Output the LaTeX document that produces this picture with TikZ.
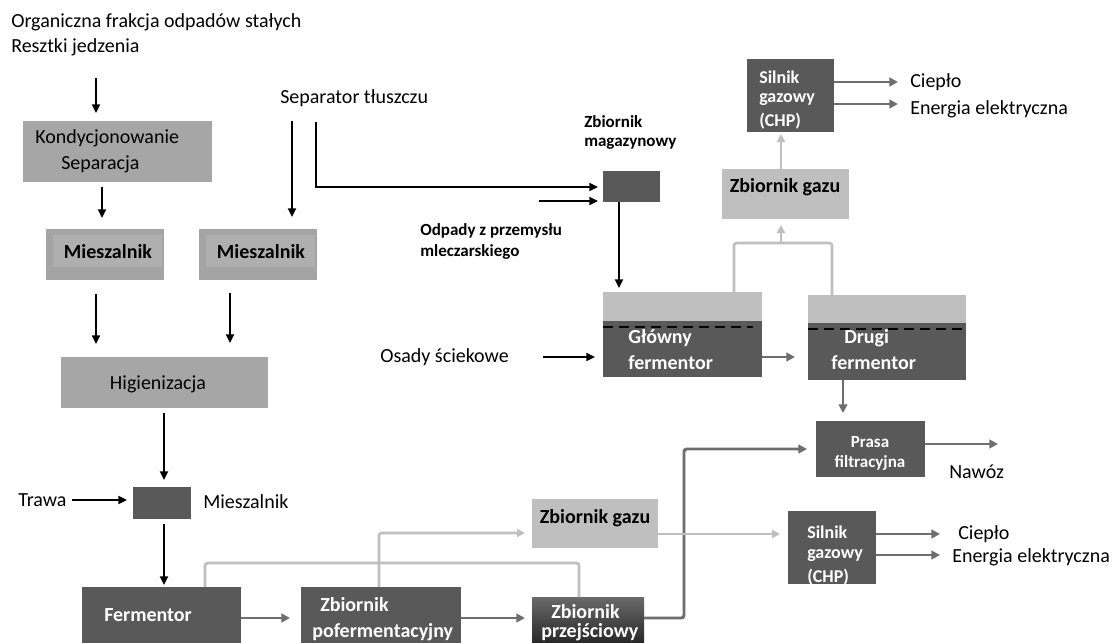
\documentclass[tikz,border=0pt]{standalone}
\usepackage{fontspec}
\setmainfont{Carlito}
\usetikzlibrary{arrows.meta,fit}
\definecolor{dk}{HTML}{595959}
\definecolor{lb}{HTML}{A6A6A6}
\definecolor{lg}{HTML}{BFBFBF}
\definecolor{gr}{HTML}{6E6E6E}
\definecolor{mx}{HTML}{A4A4A4}
\definecolor{mxi}{HTML}{AFAFAF}
\definecolor{gradtop}{HTML}{6A6A6A}
\definecolor{gradbot}{HTML}{1E1E1E}
\begin{document}
\begin{tikzpicture}[x=0.75pt,y=-0.75pt,
  box/.style={inner sep=0pt,outer sep=0pt,draw=none},
  big/.style={font=\fontsize{15}{18}\selectfont},
  lbl/.style={anchor=west,inner sep=0pt,big},
  blbl/.style={anchor=west,inner sep=0pt,font=\fontsize{15}{18}\selectfont\bfseries},
  sbl/.style={anchor=west,inner sep=0pt,font=\fontsize{12.75}{15}\selectfont\bfseries},
  wtxt/.style={anchor=west,inner sep=0pt,text=white,font=\fontsize{15}{18}\selectfont\bfseries},
  wsilb/.style={anchor=west,inner sep=0pt,text=white,font=\fontsize{13.5}{16}\selectfont\bfseries},
  wprs/.style={anchor=center,inner sep=0pt,text=white,font=\fontsize{12.75}{15}\selectfont\bfseries},
  blk/.style={draw=black,line width=1.5pt,-{Triangle[length=6.5pt,width=6pt]}},
  gry/.style={draw=gr,line width=2.2pt,-{Triangle[length=6.5pt,width=6.5pt]}},
  gline/.style={draw=gr,line width=2.2pt,rounded corners=2pt},
  lgt/.style={draw=lg,line width=2pt,-{Triangle[length=6pt,width=6pt]},rounded corners=2pt},
  lline/.style={draw=lg,line width=2pt,rounded corners=2pt},
  dsh/.style={draw=black,line width=1.6pt,dash pattern=on 7.5pt off 4.5pt}
]
\useasboundingbox[fill=white] (0,0) rectangle (1115,643);

% ---------- left column ----------
\node[lbl] (t1) at (11,22) {Organiczna frakcja odpadów stałych};
\node[lbl] (t2) at (11,47) {Resztki jedzenia};

\node[box,fill=lb,fit={(23,121) (212,182)}] (kond) {};
\node[lbl] (kond1) at (35,138) {Kondycjonowanie};
\node[lbl] (kond2) at (61,164) {Separacja};

\node[box,fill=mx,fit={(46,229) (164,280)}] (mies1) {};
\fill[mxi] (53,235) rectangle (162,267);
\node[blbl,anchor=center] (mies1t) at (108,252) {Mieszalnik};

\node[box,fill=mx,fit={(199,229) (317,280)}] (mies2) {};
\fill[mxi] (206,235) rectangle (315,267);
\node[blbl,anchor=center] (mies2t) at (261,252) {Mieszalnik};

\node[lbl] (sep) at (280,98) {Separator tłuszczu};

\node[box,fill=lb,fit={(61,357) (268,408)}] (hig) {};
\node[lbl,anchor=center] (higt) at (158,384) {Higienizacja};

\node[box,fill=dk,fit={(133,487) (191,519)}] (mix) {};
\node[lbl] (trawa) at (18,500) {Trawa};
\node[lbl] (mixt) at (203,502) {Mieszalnik};

\coordinate (c1a) at (96,78);   \coordinate (c1b) at (96,113);
\coordinate (c2a) at (102,187); \coordinate (c2b) at (102,218);
\coordinate (c3a) at (292,121); \coordinate (c3b) at (292,217);
\coordinate (c4a) at (96,294);  \coordinate (c4b) at (96,344);
\coordinate (c5a) at (230,293); \coordinate (c5b) at (230,343);
\coordinate (c6a) at (164,413); \coordinate (c6b) at (164,480);
\coordinate (c7a) at (72,500);  \coordinate (c7b) at (127,500);
\coordinate (c8a) at (164,524); \coordinate (c8b) at (164,585);
\draw[blk] (c1a) -- (c1b);
\draw[blk] (c2a) -- (c2b);
\draw[blk] (c3a) -- (c3b);
\draw[blk] (c4a) -- (c4b);
\draw[blk] (c5a) -- (c5b);
\draw[blk] (c6a) -- (c6b);
\draw[blk] (c7a) -- (c7b);
\draw[blk] (c8a) -- (c8b);

% ---------- bottom row ----------
\node[box,fill=dk,fit={(82,587) (241,650)}] (ferm) {};
\node[wtxt] (fermt) at (104,615) {Fermentor};

\node[box,fill=dk,fit={(301,587) (461,650)}] (pof) {};
\node[wtxt] (pof1) at (320,605) {Zbiornik};
\node[wtxt] (pof2) at (312,632) {pofermentacyjny};

\node[box,top color=gradtop,bottom color=gradbot,fit={(532,597) (644,650)}] (prz) {};
\node[wtxt] (prz1) at (551,612) {Zbiornik};
\node[wtxt] (prz2) at (541,632) {przejściowy};

\node[box,fill=lg,fit={(532,499) (658,548)}] (gazb) {};
\node[blbl,anchor=center] (gazbt) at (595,518) {Zbiornik gazu};

\node[box,fill=dk,fit={(788,511) (876,584)}] (silb) {};
\node[wsilb] (silb1) at (807,532) {Silnik};
\node[wsilb] (silb2) at (807,556) {gazowy};
\node[wsilb] (silb3) at (807,577) {(CHP)};
\node[lbl] (cb) at (958,534) {Ciepło};
\node[lbl] (eb) at (952,557) {Energia elektryczna};

\node[box,fill=dk,fit={(816,421) (925,477)}] (prasa) {};
\node[wprs] (prasa1) at (870,442) {Prasa};
\node[wprs] (prasa2) at (870,463) {filtracyjna};
\node[lbl] (naw) at (949,472) {Nawóz};

\draw[gry] (ferm.east |- 0,618) -- (290,618);
\draw[gry] (pof.east |- 0,618) -- (525,618);
\coordinate (k1) at (684,618);
\coordinate (k2) at (684,449);
\draw[gline,-{Triangle[length=6.5pt,width=6.5pt]}] (prz.east |- k1) -- (k1) -- (k2) -- (807,449);
\draw[gry] (prasa.east |- 0,444) -- (998,444);
\draw[lline] (205,587) -- (205,563) -- (579,563) -- (579,597);
\draw[lgt] (379,587) -- (379,533) -- (525,533);
\draw[lgt] (gazb.east |- 0,534) -- (780,534);
\draw[gry] (silb.east |- 0,534) -- (940,534);
\draw[gry] (silb.east |- 0,555) -- (940,555);

% ---------- top right ----------
\node[box,fill=dk,fit={(603,171) (660,202)}] (tank) {};
\node[sbl] (tank1) at (584,122) {Zbiornik};
\node[sbl] (tank2) at (584,144) {magazynowy};
\node[sbl] (odp1) at (420,231) {Odpady z przemysłu};
\node[sbl] (odp2) at (420,252) {mleczarskiego};

\node[box,fill=lg,fit={(603,292) (762,321)}] (glt) {};
\node[box,fill=dk,fit={(603,321) (762,377)}] (glb) {};
\draw[dsh] (603,327) -- (753,327);
\node[wtxt] (gl1) at (628,338) {Główny};
\node[wtxt] (gl2) at (628,363) {fermentor};

\node[box,fill=lg,fit={(808,295) (966,323)}] (drt) {};
\node[box,fill=dk,fit={(808,323) (966,380)}] (drb) {};
\draw[dsh] (808,329) -- (966,329);
\node[wtxt] (dr1) at (844,338) {Drugi};
\node[wtxt] (dr2) at (831,363) {fermentor};

\node[lbl] (osady) at (380,357) {Osady ściekowe};

\node[box,fill=lg,fit={(722,169) (849,219)}] (gazt) {};
\node[blbl,anchor=center] (gaztt) at (785,187) {Zbiornik gazu};

\node[box,fill=dk,fit={(747,59) (834,132)}] (silt) {};
\node[wsilb] (silt1) at (759,77) {Silnik};
\node[wsilb] (silt2) at (759,100) {gazowy};
\node[wsilb] (silt3) at (759,121) {(CHP)};
\node[lbl] (ct) at (910,82) {Ciepło};
\node[lbl] (et) at (910,109) {Energia elektryczna};

\coordinate (s1) at (316,122);
\coordinate (s2) at (316,187);
\draw[blk] (s1) -- (s2) -- (598,187);
\draw[blk] (539,201) -- (598,201);
\draw[blk] (619,202) -- (619,288);
\draw[blk] (543,357) -- (595,357);
\draw[gry] (glb.east |- 0,357) -- (795,357);
\draw[lline] (734,292) -- (734,243) -- (832,243) -- (832,295);
\draw[lgt] (781,243) -- (781,225);
\draw[lgt] (781,169) -- (781,134);
\draw[gry] (silt.east |- 0,82) -- (898,82);
\draw[gry] (silt.east |- 0,104) -- (898,104);
\draw[gry] (843,380) -- (843,413);
\end{tikzpicture}
\end{document}
